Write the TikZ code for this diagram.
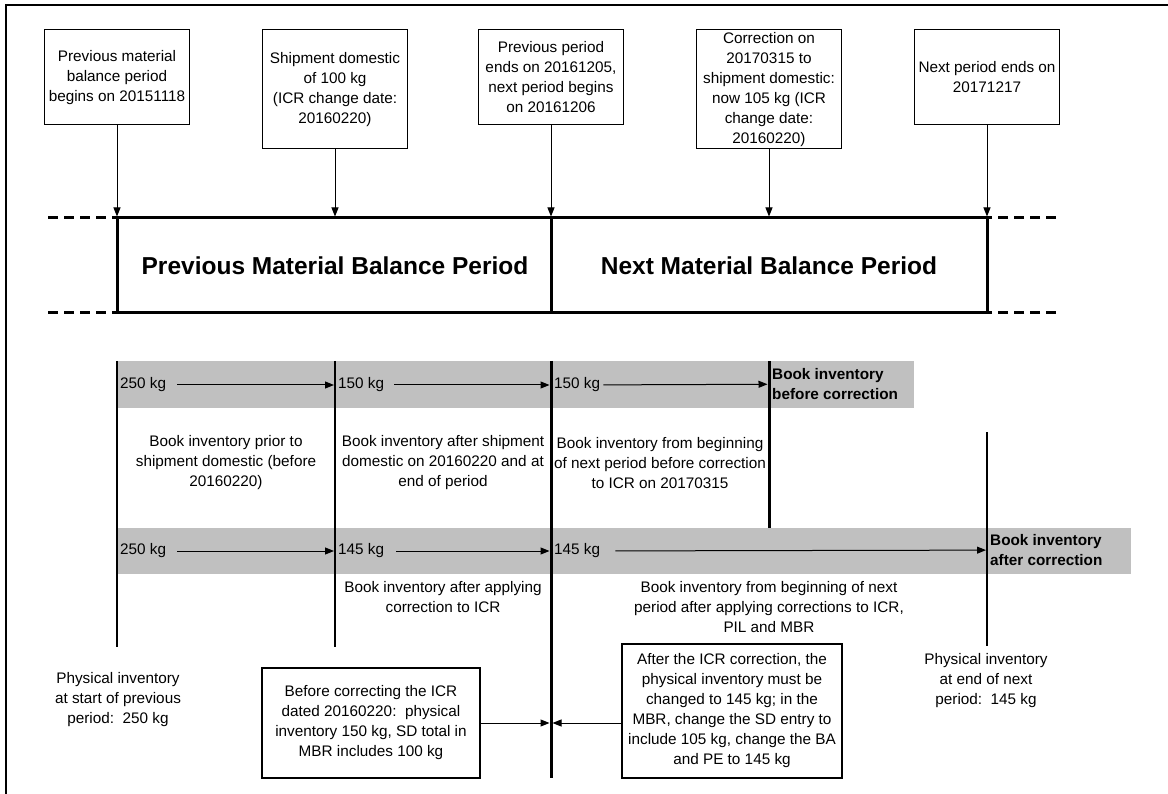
\documentclass[tikz,border=0pt]{standalone}
\usepackage{xcolor}
\usepackage{fontspec}
\setmainfont{Liberation Sans}
\usepackage{tikz}
\usetikzlibrary{arrows.meta}
\usetikzlibrary{positioning}

\definecolor{bandgray}{RGB}{192,192,192}
\newcommand{\bodyfont}{\fontsize{15.3}{20}\selectfont}
\tikzset{
  datebox/.style={draw,line width=1.5pt,minimum width=145pt,inner sep=1pt,align=center,anchor=north},
  notebox/.style={draw,line width=1.5pt,inner sep=2pt,align=center},
  kgtext/.style={anchor=west,inner sep=3pt},
  boldtext/.style={anchor=west,align=left,inner sep=3pt,font=\bodyfont\bfseries},
  periodtitle/.style={font=\fontsize{24.5}{28}\selectfont\bfseries},
  timeline/.style={line width=3pt},
  timedash/.style={line width=3pt,dash pattern=on 10pt off 6pt},
  flow/.style={line width=1pt,->},
}

\begin{document}
\begin{tikzpicture}[x=1pt,y=-1pt,>={Triangle[length=9pt,width=7pt]},font=\bodyfont]
    \useasboundingbox (0,0) rectangle (1168,794);
    \draw[line width=2pt] (6,794) -- (6,5) -- (1168,5);% frame

    \coordinate (c1) at (117,218);% columns on the time line
    \coordinate (c2) at (335,218);
    \coordinate (c3) at (551,218);
    \coordinate (c4) at (769,218);
    \coordinate (c5) at (987,218);
    \coordinate (toprow) at (0,29);
    \coordinate (botline) at (0,313);
    \coordinate (dashl) at (48,218);
    \coordinate (dashr) at (1056,218);

    % dates on top
    \node[datebox,minimum height=95pt] (begprev) at (c1 |- toprow) {Previous material\\balance period\\begins on 20151118};
    \node[datebox,minimum height=119pt] (shipdom) at (c2 |- toprow) {Shipment domestic\\of 100 kg\\(ICR change date:\\20160220)};
    \node[datebox,minimum height=95pt] (endprev) at (c3 |- toprow) {Previous period\\ends on 20161205,\\next period begins\\on 20161206};
    \node[datebox,minimum height=119pt] (corrdate) at (c4 |- toprow) {Correction on\\20170315 to\\shipment domestic:\\now 105 kg (ICR\\change date:\\20160220)};
    \node[datebox,minimum height=95pt] (endnext) at (c5 |- toprow) {Next period ends on\\20171217};

    \foreach \datenode/\col in {begprev/c1,shipdom/c2,endprev/c3,corrdate/c4,endnext/c5}
        \draw[flow,shorten >=1.5pt] (\datenode) -- (\col);

    % time line
    \draw[timeline] (c1) -- (c5);
    \draw[timeline] (c1 |- botline) -- (c5 |- botline);
    \draw[timeline] (c1) -- (c1 |- botline);
    \draw[timeline] (c3) -- (c3 |- botline);
    \draw[timeline] (c5) -- (c5 |- botline);
    \draw[timedash] (dashl) -- (c1);% dashed ends
    \draw[timedash] (dashl |- botline) -- (c1 |- botline);
    \draw[timedash] (dashr) -- (c5);
    \draw[timedash] (dashr |- botline) -- (c5 |- botline);

    \node[periodtitle] (prevtitle) at (335,266) {Previous Material Balance Period};
    \node[periodtitle] (nexttitle) at (769,266) {Next Material Balance Period};

    % grey bands
    \fill[bandgray] (117,361) rectangle (914,408);% before correction
    \fill[bandgray] (117,528) rectangle (1131,574);% after correction

    \draw[line width=2pt] (117,361) -- (117,647);
    \draw[line width=2pt] (335,361) -- (335,647);
    \draw[line width=3pt] (551,361) -- (551,778);
    \draw[line width=3pt] (769,361) -- (769,528);
    \draw[line width=1.5pt] (987,432) -- (987,646);

    % book inventory before correction
    \node[kgtext] (bi1) at (117,385) {250 kg};
    \node[kgtext] (bi2) at (335,385) {150 kg};
    \node[kgtext] (bi3) at (551,385) {150 kg};
    \node[boldtext] (bibefore) at (769,384) {Book inventory\\before correction};
    \draw[flow,shorten <=8pt,shorten >=1pt] (bi1) -- (bi2);
    \draw[flow,shorten <=7pt,shorten >=1.5pt] (bi2) -- (bi3);
    \draw[flow,shorten >=1.5pt] (bi3) -- (bibefore);

    % book inventory after correction
    \node[kgtext] (ai1) at (117,551) {250 kg};
    \node[kgtext] (ai2) at (335,551) {145 kg};
    \node[kgtext] (ai3) at (551,551) {145 kg};
    \node[boldtext] (aiafter) at (987,550) {Book inventory\\after correction};
    \draw[flow,shorten <=8pt,shorten >=1pt] (ai1) -- (ai2);
    \draw[flow,shorten <=9pt,shorten >=1.5pt] (ai2) -- (ai3);
    \draw[flow,shorten <=12pt,shorten >=1pt] (ai3) -- (aiafter);

    \node[align=center] (txtprior) at (226,463) {Book inventory prior to\\shipment domestic (before\\20160220)};
    \node[align=center] (txtship) at (443,463) {Book inventory after shipment\\domestic on 20160220 and at\\end of period};
    \node[align=center] (txtnextb) at (660,463) {Book inventory from beginning\\of next period before correction\\to ICR on 20170315};
    \node[align=center] (txtcorr) at (443,597) {Book inventory after applying\\correction to ICR};
    \node[align=center] (txtnexta) at (769,607) {Book inventory from beginning of next\\period after applying corrections to ICR,\\PIL and MBR};

    % physical inventory
    \node[align=center] (physstart) at (118,700) {Physical inventory\\at start of previous\\period:\ \ 250 kg};
    \node[align=center] (physend) at (986,681) {Physical inventory\\at end of next\\period:\ \ 145 kg};

    \node[notebox,minimum width=218pt,minimum height=110pt] (beforebox) at (371,723) {Before correcting the ICR\\dated 20160220:\ \ physical\\inventory 150 kg, SD total in\\MBR includes 100 kg};
    \node[notebox,minimum width=220pt,minimum height=134pt] (afterbox) at (732,711) {After the ICR correction, the\\physical inventory must be\\changed to 145 kg; in the\\MBR, change the SD entry to\\include 105 kg, change the BA\\and PE to 145 kg};
    \draw[flow,shorten >=1.5pt] (beforebox) -- (beforebox -| c3);
    \draw[flow,shorten >=1.5pt] (afterbox.west |- beforebox) -- (beforebox -| c3);
\end{tikzpicture}
\end{document}
